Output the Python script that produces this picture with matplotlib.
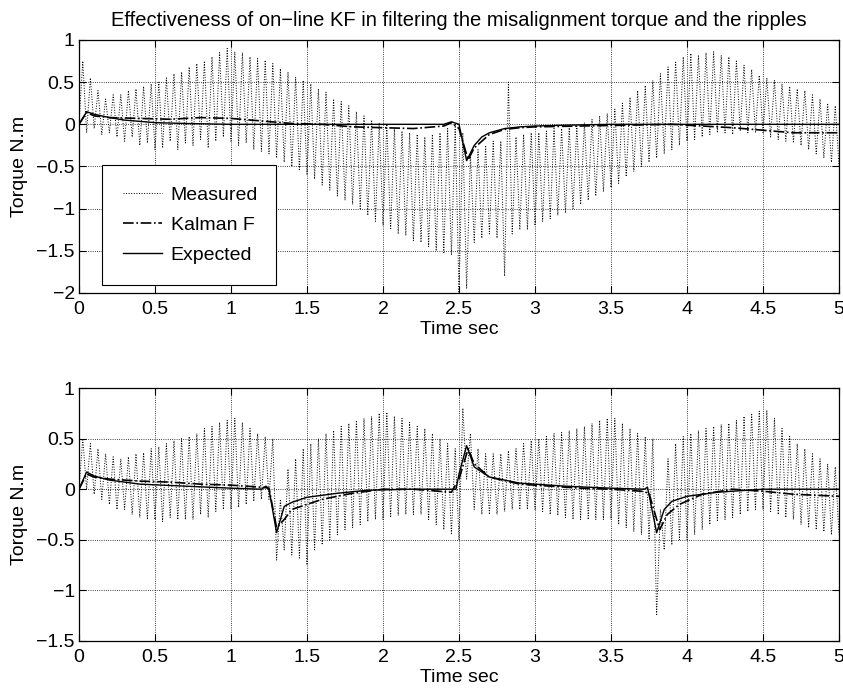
import numpy as np
import matplotlib
matplotlib.use('Agg')
import matplotlib.pyplot as plt

plt.rcParams['font.family'] = ['Liberation Sans', 'DejaVu Sans']
plt.rcParams['font.size'] = 14

# sample times for measured torque (0.025 s step)
t_meas = np.linspace(0.0, 5.0, 201)

# upper panel: measured torque (every 0.025 s)
meas_top = [
    0.0, 0.75, -0.1, 0.55, -0.05, 0.4, -0.12, 0.3, -0.1, 0.35,
    -0.15, 0.35, -0.2, 0.4, -0.15, 0.42, -0.25, 0.45, -0.22, 0.48,
    -0.3, 0.5, -0.28, 0.55, -0.2, 0.6, -0.3, 0.62, -0.22, 0.68,
    -0.25, 0.72, -0.18, 0.75, -0.28, 0.8, -0.2, 0.85, -0.15, 0.9,
    -0.2, 0.86, -0.25, 0.85, -0.22, 0.8, -0.3, 0.78, -0.32, 0.76,
    -0.35, 0.72, -0.4, 0.66, -0.45, 0.62, -0.5, 0.56, -0.55, 0.52,
    -0.6, 0.48, -0.65, 0.42, -0.72, 0.38, -0.78, 0.3, -0.85, 0.27,
    -0.9, 0.22, -0.95, 0.15, -1.0, 0.1, -1.08, 0.05, -1.15, 0.02,
    -1.2, 0.0, -1.25, -0.05, -1.3, -0.08, -1.32, -0.1, -1.38, -0.12,
    -1.4, -0.15, -1.45, -0.12, -1.5, -0.1, -1.52, -0.05, -1.55, 0.0,
    -2.0, -0.1, -1.95, -0.35, -1.4, -0.3, -1.35, -0.25, -1.3, -0.2,
    -1.35, -0.2, -1.8, 0.5, -1.3, -0.15, -1.25, -0.12, -1.25, -0.1,
    -1.2, -0.1, -1.15, -0.08, -1.12, -0.05, -1.08, -0.05, -1.05, -0.04,
    -1.0, -0.02, -0.95, 0.02, -0.9, 0.06, -0.85, 0.1, -0.8, 0.13,
    -0.75, 0.18, -0.7, 0.25, -0.62, 0.32, -0.56, 0.4, -0.5, 0.46,
    -0.45, 0.52, -0.4, 0.6, -0.35, 0.68, -0.3, 0.75, -0.25, 0.8,
    -0.2, 0.84, -0.18, 0.82, -0.15, 0.85, -0.12, 0.86, -0.1, 0.82,
    -0.1, 0.8, -0.12, 0.75, -0.08, 0.7, -0.1, 0.65, -0.1, 0.58,
    -0.1, 0.55, -0.15, 0.52, -0.18, 0.48, -0.2, 0.45, -0.22, 0.42,
    -0.25, 0.4, -0.3, 0.35, -0.35, 0.3, -0.4, 0.25, -0.45, 0.22,
    -0.5,
]

# lower panel: measured torque
meas_bot = [
    0.0, 0.5, 0.0, 0.45, -0.05, 0.4, -0.1, 0.35, -0.15, 0.32,
    -0.2, 0.3, -0.2, 0.32, -0.25, 0.35, -0.28, 0.36, -0.3, 0.4,
    -0.3, 0.42, -0.32, 0.45, -0.28, 0.48, -0.3, 0.5, -0.3, 0.52,
    -0.3, 0.55, -0.25, 0.6, -0.28, 0.62, -0.22, 0.66, -0.2, 0.68,
    -0.2, 0.7, -0.18, 0.66, -0.15, 0.6, -0.12, 0.55, -0.1, 0.52,
    -0.1, 0.5, -0.7, -0.1, -0.6, 0.2, -0.65, 0.3, -0.68, 0.4,
    -0.75, 0.45, -0.6, 0.5, -0.55, 0.55, -0.5, 0.58, -0.45, 0.62,
    -0.4, 0.65, -0.38, 0.68, -0.35, 0.7, -0.32, 0.72, -0.3, 0.75,
    -0.3, 0.76, -0.28, 0.72, -0.26, 0.7, -0.25, 0.66, -0.25, 0.62,
    -0.25, 0.6, -0.3, 0.55, -0.35, 0.5, -0.4, 0.45, -0.45, 0.4,
    -0.5, 0.8, 0.1, 0.55, -0.2, 0.4, -0.25, 0.35, -0.25, 0.35,
    -0.25, 0.35, -0.22, 0.38, -0.2, 0.4, -0.2, 0.45, -0.2, 0.48,
    -0.2, 0.5, -0.22, 0.52, -0.25, 0.55, -0.26, 0.56, -0.28, 0.58,
    -0.3, 0.6, -0.3, 0.62, -0.3, 0.65, -0.3, 0.68, -0.3, 0.7,
    -0.3, 0.7, -0.35, 0.65, -0.38, 0.6, -0.42, 0.55, -0.45, 0.52,
    -0.5, 0.5, -1.25, -0.2, -0.6, 0.3, -0.55, 0.45, -0.5, 0.52,
    -0.5, 0.55, -0.45, 0.58, -0.4, 0.6, -0.35, 0.62, -0.32, 0.64,
    -0.3, 0.65, -0.28, 0.68, -0.25, 0.72, -0.22, 0.75, -0.2, 0.77,
    -0.2, 0.78, -0.22, 0.7, -0.25, 0.6, -0.28, 0.52, -0.3, 0.45,
    -0.35, 0.4, -0.38, 0.35, -0.4, 0.3, -0.42, 0.25, -0.45, 0.22,
    -0.45,
]

# expected torque, upper panel
t_exp_top = [0, 0.05, 0.1, 0.2, 0.3, 0.5, 0.7, 1.0, 1.5, 2.0, 2.4, 2.45, 2.5,
             2.55, 2.6, 2.65, 2.7, 2.8, 2.9, 3.0, 3.2, 3.5, 5.0]
exp_top = [0, 0.15, 0.12, 0.08, 0.05, 0.02, 0.01, 0.0, 0.0, 0.0, 0.0, 0.03, 0.0,
           -0.43, -0.25, -0.15, -0.1, -0.05, -0.03, -0.02, -0.01, 0.0, 0.0]

# Kalman filter estimate, upper panel
t_kf_top = [0, 0.05, 0.1, 0.2, 0.4, 0.6, 0.8, 1.0, 1.2, 1.4, 1.6, 1.8, 2.0, 2.2,
            2.4, 2.45, 2.5, 2.56, 2.6, 2.7, 2.8, 2.9, 3.0, 3.3, 3.6, 3.9, 4.1,
            4.3, 4.5, 4.7, 4.9, 5.0]
kf_top = [0, 0.14, 0.1, 0.08, 0.07, 0.06, 0.08, 0.07, 0.04, 0.01, 0.0, -0.03,
          -0.04, -0.05, -0.02, 0.02, -0.05, -0.42, -0.28, -0.12, -0.06, -0.04,
          -0.03, -0.02, -0.01, 0.0, -0.02, -0.04, -0.07, -0.1, -0.1, -0.1]

# expected torque, lower panel
t_exp_bot = [0, 0.05, 0.1, 0.2, 0.4, 0.7, 1.0, 1.2, 1.23, 1.25, 1.3, 1.35, 1.4,
             1.5, 1.7, 1.9, 2.2, 2.48, 2.5, 2.55, 2.6, 2.7, 2.9, 3.2, 3.5, 3.72,
             3.74, 3.8, 3.85, 3.9, 4.0, 4.2, 4.5, 5.0]
exp_bot = [0, 0.17, 0.13, 0.09, 0.05, 0.03, 0.01, 0.0, 0.03, 0.0, -0.43, -0.17,
           -0.13, -0.08, -0.04, -0.01, 0.0, 0.0, 0.15, 0.43, 0.22, 0.12, 0.06,
           0.03, 0.01, 0.0, 0.02, -0.43, -0.2, -0.12, -0.07, -0.03, 0.0, 0.0]

# Kalman filter estimate, lower panel
t_kf_bot = [0, 0.05, 0.1, 0.2, 0.4, 0.6, 0.8, 1.0, 1.2, 1.25, 1.3, 1.35, 1.4,
            1.5, 1.6, 1.8, 2.0, 2.2, 2.45, 2.5, 2.56, 2.6, 2.7, 2.9, 3.1, 3.3,
            3.5, 3.7, 3.75, 3.82, 3.87, 3.95, 4.1, 4.3, 4.5, 4.7, 5.0]
kf_bot = [0, 0.15, 0.12, 0.1, 0.08, 0.07, 0.05, 0.04, 0.02, 0.01, -0.38, -0.3,
          -0.2, -0.15, -0.1, -0.04, 0.0, 0.0, -0.03, 0.1, 0.4, 0.25, 0.12, 0.05,
          0.03, 0.01, 0.0, -0.02, -0.04, -0.4, -0.25, -0.15, -0.05, 0.0, -0.02,
          -0.05, -0.07]

xticks = [0, 0.5, 1, 1.5, 2, 2.5, 3, 3.5, 4, 4.5, 5]
xticklabels = ['0', '0.5', '1', '1.5', '2', '2.5', '3', '3.5', '4', '4.5', '5']

fig = plt.figure(figsize=(8.43, 6.92), dpi=100)
ax1 = fig.add_axes([0.0937, 0.5766, 0.9016, 0.3656])
ax2 = fig.add_axes([0.0937, 0.0737, 0.9016, 0.3656])

def style(ax, ylim, yticks, ylabels):
    ax.set_xlim(0, 5)
    ax.set_ylim(*ylim)
    ax.set_xticks(xticks)
    ax.set_xticklabels(xticklabels)
    ax.set_yticks(yticks)
    ax.set_yticklabels(ylabels)
    ax.grid(True, color='black', linestyle=':', linewidth=0.6)
    ax.tick_params(direction='in', length=5, width=0.8, top=True, right=True,
                   labelsize=14)
    ax.tick_params(axis='x', pad=6)
    ax.tick_params(axis='y', pad=3)
    for s in ax.spines.values():
        s.set_linewidth(0.9)
    ax.set_xlabel('Time sec', fontsize=14, labelpad=2)
    ax.set_ylabel('Torque N.m', fontsize=14, labelpad=6)

# upper panel
ax1.plot(t_meas, meas_top, color='black', linestyle=':', linewidth=0.7, label='Measured')
ax1.plot(t_kf_top, kf_top, color='black', linestyle='-.', linewidth=1.2, label='Kalman F')
ax1.plot(t_exp_top, exp_top, color='black', linestyle='-', linewidth=1.0, label='Expected')
style(ax1, (-2, 1), [-2, -1.5, -1, -0.5, 0, 0.5, 1],
      ['\u22122', '\u22121.5', '\u22121', '\u22120.5', '0', '0.5', '1'])
ax1.set_title('Effectiveness of on\u2212line KF in filtering the misalignment torque and the ripples',
              fontsize=14.5, pad=10)
leg = ax1.legend(loc='lower left', bbox_to_anchor=(0.03, 0.03, 0.229, 0.5),
                 mode='expand', fancybox=False,
                 edgecolor='black', framealpha=1, fontsize=14, handlelength=2.0,
                 labelspacing=0.65, borderpad=1.1, handletextpad=0.45, borderaxespad=0)
leg.get_frame().set_linewidth(0.8)

# lower panel
ax2.plot(t_meas, meas_bot, color='black', linestyle=':', linewidth=0.7)
ax2.plot(t_kf_bot, kf_bot, color='black', linestyle='-.', linewidth=1.2)
ax2.plot(t_exp_bot, exp_bot, color='black', linestyle='-', linewidth=1.0)
style(ax2, (-1.5, 1), [-1.5, -1, -0.5, 0, 0.5, 1],
      ['\u22121.5', '\u22121', '\u22120.5', '0', '0.5', '1'])

fig.savefig('out.png', dpi=100)
